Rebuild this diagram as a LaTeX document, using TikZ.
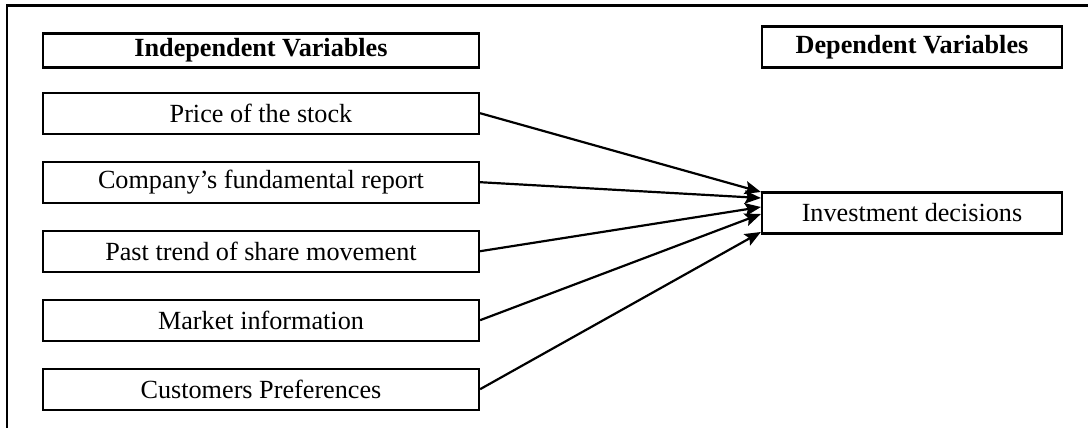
\documentclass[tikz,border=0pt]{standalone}
\usepackage{fontspec}
\setmainfont{Liberation Serif}
\usetikzlibrary{positioning,arrows.meta}

\begin{document}
\begin{tikzpicture}[x=0.5pt, y=-0.5pt, node distance=12.9pt, >={Stealth[length=8pt,width=6.5pt,inset=1.5pt]},
    every node/.style={font=\fontsize{13.1}{15.7}\selectfont},
    varbox/.style={draw, line width=1.1pt, rectangle, inner sep=0pt, minimum height=20.5pt},
    leftbox/.style={varbox, minimum width=218pt},
    rightbox/.style={varbox, minimum width=150pt},
    headtext/.style={font=\fontsize{13.1}{15.7}\selectfont\bfseries}]
  \useasboundingbox (0,0) rectangle (1088,428);
  % Frame
  \draw [line width=1.2pt] (7,428) |- (1088,5.5);

  % Nodes
  \node [leftbox, headtext, minimum height=17pt] (indep) at (261,50.5) {Independent Variables};
  \node [leftbox, below=11.5pt of indep] (price) {Price of the stock};
  \node [leftbox, below=of price] (company) {Company’s fundamental report};
  \node [leftbox, below=of company] (past) {Past trend of share movement};
  \node [leftbox, below=of past] (market) {Market information};
  \node [leftbox, below=of market] (cust) {Customers Preferences};
  \node [rightbox, headtext] (dep) at (912,47) {Dependent Variables};
  \node [rightbox] (invest) at (912,213) {Investment decisions};

  % Paths
  \draw [->, line width=1.1pt] (price.east) -- ([yshift=10.5pt]invest.west);
  \draw [->, line width=1.1pt] (company.east) -- ([yshift=7.5pt]invest.west);
  \draw [->, line width=1.1pt] (past.east) -- ([yshift=3pt]invest.west);
  \draw [->, line width=1.1pt] (market.east) -- ([yshift=-0.5pt]invest.west);
  \draw [->, line width=1.1pt] (cust.east) -- ([yshift=-9.5pt]invest.west);
\end{tikzpicture}
\end{document}
